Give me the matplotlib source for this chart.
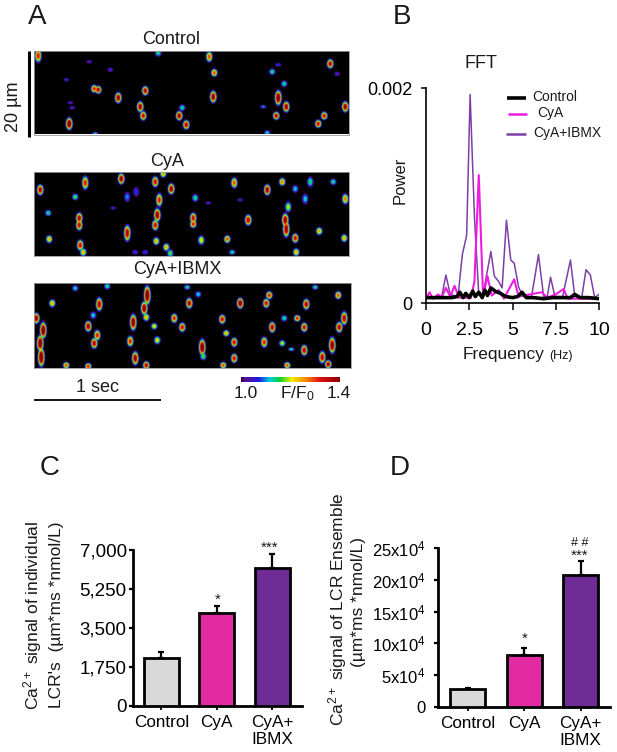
import matplotlib
matplotlib.use('Agg')
import matplotlib.pyplot as plt
import numpy as np
from matplotlib.colors import LinearSegmentedColormap

plt.rcParams['font.family'] = ['Liberation Sans', 'DejaVu Sans']
plt.rcParams['mathtext.fontset'] = 'custom'
plt.rcParams['mathtext.rm'] = 'Liberation Sans'
plt.rcParams['mathtext.default'] = 'rm'
plt.rcParams['text.color'] = '#1a1a1a'

W, H = 617, 752

# line scan spots: x px, y px, peak, vertical spread
control_spots = [
    (38, 56, .75, 5), (69, 124, 1, 4.5), (94, 89, .75, 3), (98, 90, .85, 3), (118, 98, .9, 4),
    (140, 107, .9, 4), (143, 116, .8, 3.5), (145, 91, .85, 3.5), (179, 116, .9, 3.5), (186, 125, .85, 3.5),
    (182, 108, .4, 2.5), (158, 53, .4, 3), (209, 57, .7, 4), (214, 73, .7, 3), (213, 97, .9, 4.5),
    (276, 116, .85, 3), (278, 98, 1, 5.5), (286, 107, .9, 4), (272, 72, .4, 2.5), (284, 84, .4, 2.5),
    (318, 124, .8, 3), (324, 116, .8, 3), (330, 64, .85, 3.5), (345, 107, .9, 4),
    (337, 74, .2, 2), (66, 80, .2, 1.5), (89, 62, .2, 1.5), (110, 70, .2, 2), (95, 134, .35, 1.5), (267, 133, .35, 2),
    (70, 103, .2, 1.5), (72, 108, .2, 1.5), (263, 107, .3, 1.5), (278, 65, .25, 1.5),
]
cya_spots = [
    (40, 190, .85, 4), (85, 183, .75, 5), (121, 179, .9, 4), (155, 182, .8, 4), (163, 174, .6, 3), (171, 189, .9, 4),
    (159, 200, .75, 5), (75, 197, .45, 2.5), (48, 213, .4, 2.5), (79, 218, .85, 4), (157, 215, .9, 5),
    (193, 218, .8, 4), (195, 198, .4, 3), (127, 197, .3, 4), (136, 192, .25, 4), (234, 183, .7, 4),
    (267, 190, .9, 4), (282, 182, .65, 3), (295, 189, .35, 3), (310, 182, .4, 4), (305, 199, .35, 4),
    (333, 182, .4, 2.5), (345, 199, .65, 4), (288, 207, .5, 4), (248, 220, .85, 4), (285, 220, .9, 5),
    (79, 225, .8, 4), (49, 239, .6, 3), (80, 245, .8, 4), (83, 252, .6, 3), (127, 233, .85, 6),
    (155, 225, .8, 4), (156, 241, .6, 3), (166, 247, .6, 3), (170, 253, .45, 3), (193, 224, .75, 3),
    (201, 240, .55, 3.5), (227, 239, .7, 3), (286, 229, .9, 6), (295, 238, .8, 3.5), (296, 252, .6, 3),
    (319, 231, .6, 3), (344, 238, .6, 3), (232, 252, .4, 2), (135, 252, .25, 2), (145, 252, .25, 2),
    (113, 208, .2, 1.5), (240, 200, .2, 1.5), (208, 203, .2, 1.5),
]
ibmx_spots = [
    (75, 288, .35, 2.5), (107, 286, .4, 2.5), (147, 295, 1, 7), (144, 308, .95, 5), (146, 317, .6, 3), (52, 303, .6, 3),
    (99, 304, .85, 5), (36, 318, .9, 4), (43, 330, 1, 6), (40, 343, 1, 6), (41, 357, 1, 7), (93, 315, .35, 3),
    (88, 326, .9, 4), (97, 335, .75, 4), (94, 343, .85, 4), (133, 322, .95, 6), (130, 341, .75, 4), (135, 358, .9, 5),
    (146, 365, .85, 3), (66, 365, .7, 2.5), (88, 366, .75, 2.5), (154, 326, .55, 2.5), (157, 340, .55, 3),
    (174, 318, .75, 3.5), (182, 327, .8, 3.5), (189, 303, .85, 4), (198, 294, .35, 2.5), (202, 347, 1, 6),
    (203, 356, .45, 3), (222, 319, .8, 3.5), (226, 333, .6, 2.5), (234, 342, .8, 3.5), (234, 358, .8, 3.5),
    (223, 365, .7, 2.5), (240, 303, .95, 4), (266, 303, .8, 3.5), (269, 295, .75, 3), (284, 318, .4, 2.5),
    (272, 327, .85, 4), (264, 342, .75, 4), (282, 343, .5, 2.5), (297, 318, .75, 2.5), (304, 327, .8, 3.5),
    (306, 304, .85, 4), (304, 350, .85, 4), (291, 349, .4, 1.5), (322, 357, .85, 4.5), (328, 364, .9, 3),
    (332, 345, .95, 6), (339, 327, .85, 4), (344, 318, .85, 5), (338, 295, .7, 3), (287, 365, .7, 2.5),
    (315, 287, .4, 2), (187, 287, .4, 2),
]

# FFT traces
fft_black_x = [0, .5, 1, 1.5, 1.8, 1.95, 2.15, 2.3, 2.5, 2.7, 2.85, 3.05, 3.25, 3.4, 3.55, 3.75, 4, 4.3, 4.6, 5, 5.3, 5.55, 5.8, 6.2, 6.8, 7.3, 8, 8.35, 8.6, 8.9, 9.4, 10]
fft_black_y = [.00005, .00005, .00005, .00005, .00006, .0001, .00005, .00009, .00005, .00011, .00006, .0001, .00005, .00012, .00007, .00014, .00011, .00009, .00006, .00005, .00006, .0001, .00005, .00005, .00004, .00005, .00005, .00005, .00008, .00005, .00005, .00004]
fft_cya_x = [0, .2, .4, .7, .9, 1.15, 1.4, 1.65, 1.9, 2.6, 2.8, 3.05, 3.3, 3.55, 3.8, 4.2, 4.5, 5.1, 5.35, 6, 6.7, 7, 7.5, 7.95, 8.2, 10]
fft_cya_y = [.00004, .0001, .00004, .00008, .00005, .00014, .00006, .00016, .00005, .00005, .0002, .00119, .00006, .00025, .00007, .00012, .00004, .00022, .00006, .00008, .0001, .00005, .00008, .00013, .00004, .00004]
fft_ibmx_x = [0, .9, 1.15, 1.4, 1.85, 2.1, 2.35, 2.55, 2.8, 3.05, 3.3, 3.75, 3.95, 4.2, 4.4, 4.65, 4.9, 5.1, 5.35, 5.6, 6.1, 6.3, 6.5, 6.8, 7, 7.2, 7.45, 7.9, 8.35, 8.6, 9, 9.25, 9.5, 9.75, 10]
fft_ibmx_y = [.00005, .00005, .00026, .00008, .00006, .00045, .00063, .00194, .0008, .00008, .00008, .00048, .00025, .0002, .00014, .00077, .0004, .00037, .00015, .00006, .00006, .00025, .00045, .00006, .00005, .00024, .00006, .00006, .0004, .00006, .00005, .00031, .00026, .00005, .00008]
fft_xticks = [0, 2.5, 5, 7.5, 10]
fft_xticklabels = ['0', '2.5', '5', '7.5', '10']

# bar panels
bar_colors = ['#d9d9d9', '#e22aa2', '#6f2c96']
bar_labels = ['Control', 'CyA', 'CyA+\nIBMX']
c_means = [2140, 4190, 6190]
c_errs = [300, 310, 630]
c_ticks = [0, 1750, 3500, 5250, 7000]
c_ticklabels = ['0', '1,750', '3,500', '5,250', '7,000']
d_means = [2.8, 8.2, 20.7]
d_errs = [0.25, 1.05, 2.2]
d_ticks = [0, 5, 10, 15, 20, 25]
d_ticklabels = ['0', r'5x10$^{4}$', r'10x10$^{4}$', r'15x10$^{4}$', r'20x10$^{4}$', r'25x10$^{4}$']

cmap = LinearSegmentedColormap.from_list('scan', [
    (0, '#000000'), (.06, '#000000'), (.14, '#5a109a'), (.26, '#1a1ae0'), (.36, '#00d0e0'),
    (.46, '#10d020'), (.56, '#f0f000'), (.68, '#f89000'), (.82, '#e01010'), (1, '#8a0000')])


def px_axes(left, top, right, bottom):
    return fig.add_axes([left / W, 1 - bottom / H, (right - left) / W, (bottom - top) / H])


def draw_scan(left, top, right, bottom, spots):
    ax = px_axes(left, top, right, bottom)
    xx, yy = np.meshgrid(np.arange(left, right, .5), np.arange(top, bottom, .5))
    img = np.zeros_like(xx)
    for x, y, peak, sy in spots:
        r2 = ((xx - x) / 3.0) ** 2 + ((yy - y) / (sy * 1.2)) ** 2
        img = np.maximum(img, peak * 1.1 * np.exp(-r2 ** 1.5))
    ax.imshow(img, cmap=cmap, vmin=0, vmax=1, extent=[left, right, bottom, top], aspect='auto', interpolation='bilinear')
    ax.set_xticks([])
    ax.set_yticks([])
    for s in ax.spines.values():
        s.set_color('#999999')
        s.set_linewidth(.6)


def draw_bars(ax, means, errs, xlim, ylim, ticks, ticklabels, width, tick_size, tick_pad):
    xs = np.arange(len(means))
    ax.bar(xs, means, width, color=bar_colors, edgecolor='black', linewidth=2, zorder=3)
    ax.errorbar(xs, means, yerr=[np.zeros(len(errs)), errs], fmt='none', ecolor='black', elinewidth=1.6, capsize=2.5, capthick=1.6, zorder=2)
    ax.set_xlim(*xlim)
    ax.set_ylim(*ylim)
    ax.set_xticks(xs)
    ax.set_xticklabels(bar_labels, fontsize=12.3, linespacing=1.2)
    ax.set_yticks(ticks)
    ax.set_yticklabels(ticklabels, fontsize=tick_size)
    ax.tick_params(axis='x', length=3, width=1.3, pad=3.5)
    ax.tick_params(axis='y', length=3, width=1.6, pad=tick_pad)
    for s in ['top', 'right']:
        ax.spines[s].set_visible(False)
    for s in ['left', 'bottom']:
        ax.spines[s].set_linewidth(2)


fig = plt.figure(figsize=(W / 100, H / 100), dpi=100)

draw_scan(34, 50.5, 349, 134.5, control_spots)
draw_scan(34, 171.5, 349, 256, cya_spots)
draw_scan(34, 283, 351, 368, ibmx_spots)

# colour bar
cax = px_axes(241, 377, 340, 382)
cax.imshow(np.linspace(.1, 1, 256)[None, :], cmap=cmap, vmin=0, vmax=1, aspect='auto')
cax.axis('off')

# FFT panel
ax_fft = px_axes(426, 88, 599, 303)
ax_fft.plot(fft_ibmx_x, fft_ibmx_y, color='#7d3fa6', lw=1.1)
ax_fft.plot(fft_cya_x, fft_cya_y, color='#f01ae0', lw=1.5)
ax_fft.plot(fft_black_x, fft_black_y, color='black', lw=2.6)
ax_fft.set_xlim(0, 10)
ax_fft.set_ylim(0, .002)
ax_fft.set_xticks(fft_xticks)
ax_fft.set_xticklabels(fft_xticklabels, fontsize=14)
ax_fft.set_yticks([0, .002])
ax_fft.set_yticklabels(['0', '0.002'], fontsize=13)
ax_fft.tick_params(axis='x', length=5, width=1.1, pad=9)
ax_fft.tick_params(axis='y', length=3.5, width=1.1, pad=6)
for s in ['top', 'right']:
    ax_fft.spines[s].set_visible(False)
for s in ['left', 'bottom']:
    ax_fft.spines[s].set_linewidth(1.2)

# bar panels
ax_c = px_axes(133, 550, 302, 706)
draw_bars(ax_c, c_means, c_errs, (-.515, 2.54), (0, 7000), c_ticks, c_ticklabels, .63, 13.5, 1.5)
ax_d = px_axes(438, 548, 610, 707)
draw_bars(ax_d, d_means, d_errs, (-.522, 2.52), (0, 25), d_ticks, d_ticklabels, .62, 12, 6)

# annotations, placed in picture pixels
ov = fig.add_axes([0, 0, 1, 1])
ov.set_xlim(0, W)
ov.set_ylim(H, 0)
ov.axis('off')
ov.patch.set_alpha(0)


def label(x, y, s, size, **kw):
    kw.setdefault('ha', 'center')
    kw.setdefault('va', 'center')
    ov.text(x, y, s, fontsize=size, **kw)


for x, y, s in [(37, 17, 'A'), (402, 17, 'B'), (50, 468, 'C'), (400, 468, 'D')]:
    label(x, y, s, 20)
label(171, 40, 'Control', 13)
label(167, 161, 'CyA', 13)
label(177, 270, 'CyA+IBMX', 13)
label(14, 107, '20 µm', 13, rotation=90)
label(97, 388, '1 sec', 13)
label(246, 393, '1.0', 12.5)
label(297, 394, r'F/F$_{0}$', 12.5)
label(339, 393, '1.4', 12.5)
label(481, 63, 'FFT', 13)
label(400, 180, 'Power', 12, rotation=90)
label(503, 355, 'Frequency', 12.4)
label(561, 356, '(Hz)', 9)

ov.plot([29, 29], [51, 137], color='black', lw=2.2, solid_capstyle='butt')
ov.plot([34, 161], [400, 400], color='black', lw=1.3, solid_capstyle='butt')
for x0, x1, y, c, lw, tx, s in [
    (507, 526, 98, 'black', 2.6, 532, 'Control'),
    (508, 527, 114, '#f01ae0', 1.8, 537, 'CyA'),
    (506, 526, 134, '#7d3fa6', 1.8, 533, 'CyA+IBMX'),
]:
    ov.plot([x0, x1], [y, y], color=c, lw=lw, solid_capstyle='butt')
    label(tx, y - 1, s, 10, ha='left')

label(33, 615, r'Ca$^{2+}$ signal of individual', 12.5, rotation=90)
label(57, 615, "LCR's  (µm*ms *nmol/L)", 12.5, rotation=90)
label(338, 609, r'Ca$^{2+}$ signal of LCR Ensemble', 12.5, rotation=90)
label(359, 602, '(µm*ms *nmol/L)', 12.5, rotation=90)
label(218, 600, '*', 11)
label(270, 548, '***', 11)
label(525, 639, '*', 11)
label(580, 556, '***', 11)
label(580, 543, '# #', 9)

fig.savefig('out.png', dpi=100)
